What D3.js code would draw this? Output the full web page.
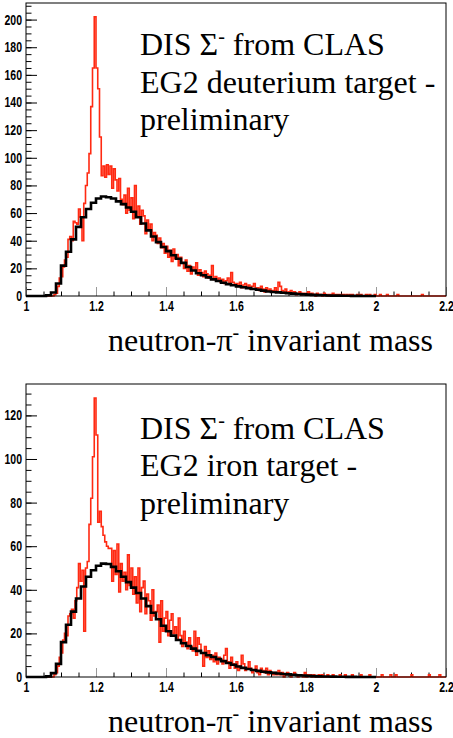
<!DOCTYPE html>
<html>
<head>
<meta charset="utf-8">
<script src="https://cdn.jsdelivr.net/npm/d3@7/dist/d3.min.js"></script>
<style>
  body { margin: 0; background: #fff; }
  svg { display: block; }
</style>
</head>
<body>
<div id="vis"></div>
<script>
const FRAME_WIDTH = 453;
const FRAME_HEIGHT = 738;

// x range of both plots
const X_MIN = 1.0;
const X_MAX = 2.2;
const X_MAJOR = [1, 1.2, 1.4, 1.6, 1.8, 2, 2.2];
const X_LABELS = ["1", "1.2", "1.4", "1.6", "1.8", "2", "2.2"];

// red = data (240 bins of 0.005 from 1.0), black = simulation (70 bins from 1.0 to 2.0)
const RED_START = 1.0, RED_WIDTH = 0.005;
const BLACK_START = 1.0, BLACK_WIDTH = 1 / 70;

const deuteriumData = [
  0,0,0,0,0,0,0,0,0,0,0,0,0,0,0,0,
  1,2,7,13,14,21,26,28,
  41,43,40,54,53,52,63,57,
  40,67,80,89,103,137,165,202,
  165,150,115,87,94,86,95,88,94,78,
  92,84,76,85,70,66,73,60,78,62,
  71,56,80,58,65,52,62,58,45,55,
  48,52,40,46,44,38,42,35,38,31,
  36,28,33,25,34,27,30,22,28,24,
  20,26,18,22,16,21,19,24,15,19,
  17,14,18,16,13,15,22,12,14,11,
  13,10,12,9,11,13,9,17,10,8,
  9,7,10,6,8,9,6,8,5,7,
  9,5,6,4,7,5,3,6,4,5,
  3,4,6,3,10,7,4,3,5,2,
  3,4,2,3,1,2,3,1,2,1,
  2,3,1,2,1,0,2,1,1,0,
  2,1,0,1,1,2,0,1,1,0,
  1,1,0,1,0,1,1,0,0,1,
  0,1,0,0,1,0,1,0,0,1,
  0,0,1,0,0,0,1,0,0,0,
  0,0,1,0,0,0,0,0,0,0,
  0,0,0,0,0,0,1,0,0,0,
  0,0,0,0,0,0,0,0,0,0
];

const deuteriumSim = [
  0,0,0,0,0.5,2.5,9,22,32,41,
  50,57,63,67.5,70.5,72,71.5,70.5,68.5,66.5,
  64,61,57,52.5,47.5,43,39,35.5,32.5,29.5,
  27,24,21,18.5,16.5,15,13.5,12,10.8,9.6,
  8.6,7.8,7,6.3,5.7,5.1,4.5,3.9,3.3,2.9,
  2.6,2.3,2.0,1.7,1.4,1.2,1.0,0.8,0.6,0.5,
  0.4,0.3,0.25,0.2,0.15,0.1,0.1,0.05,0.05,0
];

const ironData = [
  0,0,0,0,0,0,0,0,0,0,0,0,0,0,0,0,
  1,2,5,9,11,17,20,19,
  28,29,31,27,35,41,52,44,
  49,21,50,53,70,82,101,128,
  111,71,76,69,65,62,60,59,59,44,
  58,47,61,39,52,44,48,40,56,42,
  50,38,46,34,50,30,41,44,29,38,
  35,26,40,28,30,33,16,35,21,27,
  30,19,26,29,20,23,17,27,19,14,
  21,16,13,18,14,12,21,10,18,15,
  11,5,14,9,12,8,10,7,11,6,
  9,8,6,10,13,7,4,9,6,4,
  7,3,5,10,6,3,4,7,4,2,
  3,5,2,1,4,3,2,4,1,3,
  2,1,2,1,3,1,2,0,1,2,
  1,0,1,2,1,0,1,1,0,2,
  0,1,1,0,1,0,0,1,0,1,
  0,0,1,0,0,1,0,0,0,1,
  0,0,1,0,0,0,1,0,0,0,
  0,1,0,0,0,0,1,0,0,0,
  0,0,0,1,0,0,0,0,1,0,
  0,1,0,0,0,0,0,0,0,0,
  1,0,0,0,0,0,0,0,0,0,
  1,0,0,0,0,0,1,0,0,0
];

const ironSim = [
  0,0,0,0,0.3,1.8,6,16,24,30,
  36,41.5,46,49,51,52,51.8,50.5,48.5,46,
  43.5,41,38.5,36,32.5,29.5,26.5,23.5,21,19,
  17,15.5,14.2,13,12,11,10,9.2,8.2,7.3,
  6.4,5.6,4.8,4.2,3.7,3.2,2.8,2.4,2.1,1.9,
  1.6,1.4,1.2,1.0,0.8,0.7,0.5,0.4,0.3,0.25,
  0.2,0.15,0.1,0.1,0.05,0.05,0,0,0,0
];

const deuteriumText = ["DIS Σ", "-", " from CLAS", "EG2 deuterium target -", "preliminary"];
const ironText = ["DIS Σ", "-", " from CLAS", "EG2 iron target -", "preliminary"];
const X_TITLE = ["neutron-π", "-", " invariant mass"];

// layout of the two pads
const PANELS = [
  {top: 3, bottom: 296, ymax: 212, yMajorMax: 200, red: deuteriumData, black: deuteriumSim, text: deuteriumText, textBase: 55},
  {top: 384, bottom: 677, ymax: 134.4, yMajorMax: 120, red: ironData, black: ironSim, text: ironText, textBase: 438.5}
];
const LEFT = 26, RIGHT = 446;

const FRAME1 = d3.select("#vis")
  .append("svg")
    .attr("width", FRAME_WIDTH)
    .attr("height", FRAME_HEIGHT);

const X_SCALE = d3.scaleLinear().domain([X_MIN, X_MAX]).range([LEFT, RIGHT]);

const LABEL_FONT = "'Liberation Sans Narrow', 'Arial Narrow', sans-serif";
const SERIF = "'Liberation Serif', 'Times New Roman', serif";

// histogram outline: one point per bin edge, drawn with a step curve
function stepPoints(values, start, width) {
  const pts = values.map((v, i) => [start + i * width, v]);
  pts.push([start + values.length * width, values[values.length - 1]]);
  return pts;
}

function styleLabels(sel, origin) {
  sel.attr("font-family", LABEL_FONT)
    .attr("font-weight", "bold")
    .attr("font-size", 14)
    .attr("fill", "#000")
    .style("transform", "scaleX(0.75)")
    .style("transform-box", "fill-box")
    .style("transform-origin", origin);
}

function drawPanel(p) {
  const y = d3.scaleLinear().domain([0, p.ymax]).range([p.bottom, p.top]);
  const g = FRAME1.append("g");

  // y minor ticks
  g.append("g")
    .attr("transform", `translate(${LEFT},0)`)
    .call(d3.axisLeft(y).tickValues(d3.range(0, p.ymax, 5)).tickSize(-5.5).tickSizeOuter(0).tickFormat(""))
    .call(s => s.select(".domain").remove());

  // y major ticks + labels
  const yAx = g.append("g")
    .attr("transform", `translate(${LEFT},0)`)
    .call(d3.axisLeft(y).tickValues(d3.range(0, p.yMajorMax + 1, 20)).tickSize(-11).tickSizeOuter(0).tickPadding(4).tickFormat(d3.format("d")));
  yAx.select(".domain").remove();
  styleLabels(yAx.selectAll("text"), "right center");

  // x minor ticks
  g.append("g")
    .attr("transform", `translate(0,${p.bottom})`)
    .call(d3.axisBottom(X_SCALE).tickValues(d3.range(0, 24).map(i => 1 + i * 0.05)).tickSize(-4.5).tickSizeOuter(0).tickFormat(""))
    .call(s => s.select(".domain").remove());

  // x major ticks (grey) + labels
  const xAx = g.append("g")
    .attr("transform", `translate(0,${p.bottom})`)
    .call(d3.axisBottom(X_SCALE).tickValues(X_MAJOR).tickSize(-9).tickSizeOuter(0).tickPadding(5)
      .tickFormat((d, i) => X_LABELS[i]));
  xAx.select(".domain").remove();
  xAx.selectAll("line").attr("stroke", "#999");
  styleLabels(xAx.selectAll("text"), "center");

  const line = d3.line()
    .x(d => X_SCALE(d[0]))
    .y(d => y(d[1]))
    .curve(d3.curveStepAfter);

  g.append("path")
    .datum(stepPoints(p.red, RED_START, RED_WIDTH))
    .attr("fill", "none")
    .attr("stroke", "#ff2a12")
    .attr("stroke-width", 1.6)
    .attr("d", line);

  g.append("path")
    .datum(stepPoints(p.black, BLACK_START, BLACK_WIDTH))
    .attr("fill", "none")
    .attr("stroke", "#000")
    .attr("stroke-width", 2.6)
    .attr("d", line);

  // frame
  g.append("rect")
    .attr("x", LEFT).attr("y", p.top)
    .attr("width", RIGHT - LEFT).attr("height", p.bottom - p.top)
    .attr("fill", "none")
    .attr("stroke", "#000")
    .attr("stroke-width", 1);

  // annotation
  const t = g.append("g")
    .attr("font-family", SERIF)
    .attr("font-size", 32)
    .attr("fill", "#000");
  const l1 = t.append("text").attr("x", 140).attr("y", p.textBase);
  l1.append("tspan").text(p.text[0]);
  l1.append("tspan").attr("dy", -12).attr("font-size", 20).text(p.text[1]);
  l1.append("tspan").attr("dy", 12).text(p.text[2]);
  t.append("text").attr("x", 140).attr("y", p.textBase + 37.5).text(p.text[3]);
  t.append("text").attr("x", 140).attr("y", p.textBase + 75).text(p.text[4]);

  // x title
  const xt = g.append("text")
    .attr("x", 433).attr("y", p.bottom + 55)
    .attr("text-anchor", "end")
    .attr("font-family", SERIF)
    .attr("font-size", 32)
    .attr("fill", "#000");
  xt.append("tspan").text(X_TITLE[0]);
  xt.append("tspan").attr("dy", -12).attr("font-size", 20).text(X_TITLE[1]);
  xt.append("tspan").attr("dy", 12).text(X_TITLE[2]);
}

PANELS.forEach(drawPanel);
</script>
</body>
</html>
